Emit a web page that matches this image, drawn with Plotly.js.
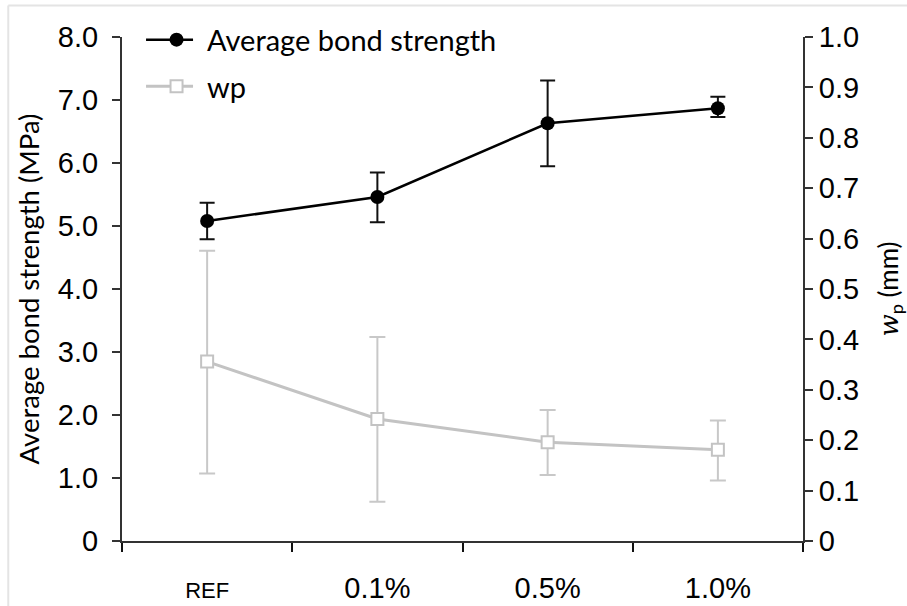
<!DOCTYPE html>
<html>
<head>
<meta charset="utf-8">
<script src="https://cdn.plot.ly/plotly-3.0.1.min.js"></script>
<style>html,body{margin:0;padding:0;background:#fff;}#chart{width:907px;height:606px;}</style>
</head>
<body>
<div id="chart"></div>
<script>
const categories = ['REF', '0.1%', '0.5%', '1.0%'];
const bondStrength = [5.08, 5.46, 6.63, 6.87];
const bondErrPlus = [0.29, 0.39, 0.68, 0.18];
const bondErrMinus = [0.29, 0.40, 0.68, 0.14];
const wp = [0.356, 0.242, 0.196, 0.181];
const wpErrPlus = [0.220, 0.163, 0.064, 0.058];
const wpErrMinus = [0.222, 0.164, 0.065, 0.061];
const leftTickVals = [0, 1, 2, 3, 4, 5, 6, 7, 8];
const leftTickText = ['0', '1.0', '2.0', '3.0', '4.0', '5.0', '6.0', '7.0', '8.0'];
const rightTickVals = [0, 0.1, 0.2, 0.3, 0.4, 0.5, 0.6, 0.7, 0.8, 0.9, 1.0];
const rightTickText = ['0', '0.1', '0.2', '0.3', '0.4', '0.5', '0.6', '0.7', '0.8', '0.9', '1.0'];

const catText = categories.map(c => c === 'REF' ? '<span style="font-size:22px">' + c + '</span>' : c);

const traces = [
  {
    x: categories, y: bondStrength, name: 'Average bond strength', legendgroup: 'a',
    type: 'scatter', mode: 'lines+markers',
    line: {color: '#000000', width: 2.5},
    marker: {symbol: 'circle', size: 14, color: '#000000'},
    error_y: {type: 'data', symmetric: false, array: bondErrPlus, arrayminus: bondErrMinus,
              color: '#111111', thickness: 2, width: 7.5}
  },
  {
    x: categories, y: wp, name: 'wp', yaxis: 'y2', legendgroup: 'b',
    type: 'scatter', mode: 'lines+markers',
    line: {color: '#c3c3c3', width: 3},
    marker: {symbol: 'square', size: 12, color: '#ffffff', line: {color: '#c3c3c3', width: 2}},
    error_y: {type: 'data', symmetric: false, array: wpErrPlus, arrayminus: wpErrMinus,
              color: '#c8c8c8', thickness: 2, width: 8}
  }
];

const layout = {
  width: 907, height: 606,
  margin: {l: 122, r: 104, t: 36.5, b: 64.5, pad: 0},
  paper_bgcolor: '#ffffff', plot_bgcolor: '#ffffff',
  font: {family: 'Liberation Sans, Arial, sans-serif', color: '#000000'},
  showlegend: true,
  legend: {x: 0.0353, y: 1.045, xanchor: 'left', yanchor: 'top', bgcolor: 'rgba(0,0,0,0)',
           font: {family: 'Lato, Noto Sans, sans-serif', size: 29, color: '#000'},
           tracegroupgap: 6, itemwidth: 51},
  xaxis: {
    type: 'category', range: [-0.5, 3.5], tickson: 'boundaries',
    tickvals: categories, ticktext: catText,
    showline: true, linecolor: '#333333', linewidth: 2,
    ticks: 'outside', ticklen: 9, tickwidth: 2, tickcolor: '#111',
    showgrid: false, zeroline: false, ticklabelstandoff: 20,
    tickfont: {family: 'Liberation Sans Narrow, Liberation Sans, Arial, sans-serif', size: 29, color: '#000'}
  },
  yaxis: {
    range: [0, 8], tickvals: leftTickVals, ticktext: leftTickText,
    showline: true, linecolor: '#333333', linewidth: 2,
    ticks: 'outside', ticklen: 8, tickwidth: 2, tickcolor: '#333',
    showgrid: false, zeroline: false, ticklabelstandoff: 8,
    tickfont: {family: 'Liberation Sans, Arial, sans-serif', size: 29, color: '#000'},
    title: {text: 'Average bond strength (MPa)', standoff: 10,
            font: {family: 'Lato, Noto Sans, sans-serif', size: 27.5, color: '#000'}}
  },
  yaxis2: {
    range: [0, 1], overlaying: 'y', side: 'right',
    tickvals: rightTickVals, ticktext: rightTickText,
    showline: true, linecolor: '#333333', linewidth: 2,
    ticks: 'outside', ticklen: 8, tickwidth: 2, tickcolor: '#333',
    showgrid: false, zeroline: false,
    tickfont: {family: 'Liberation Sans, Arial, sans-serif', size: 29, color: '#000'},
    title: {text: '<span style="font-family:DejaVu Serif;font-style:italic">w</span><sub>p</sub> (mm)', standoff: 22,
            font: {family: 'Lato, Noto Sans, sans-serif', size: 26, color: '#000'}}
  },
  shapes: [
    {type: 'line', xref: 'paper', yref: 'paper', x0: -0.167, x1: 1.2, y0: 1.0624, y1: 1.0624,
     line: {color: '#e4e4e4', width: 2}},
    {type: 'line', xref: 'paper', yref: 'paper', x0: -0.167, x1: -0.167, y0: -0.2, y1: 1.0624,
     line: {color: '#e4e4e4', width: 2}}
  ]
};

Plotly.newPlot('chart', traces, layout, {displayModeBar: false, staticPlot: true}).then(gd => {
  gd.querySelectorAll('.legend .legendlines path').forEach(p => p.setAttribute('d', 'M-7,0h54'));
});
</script>
</body>
</html>
